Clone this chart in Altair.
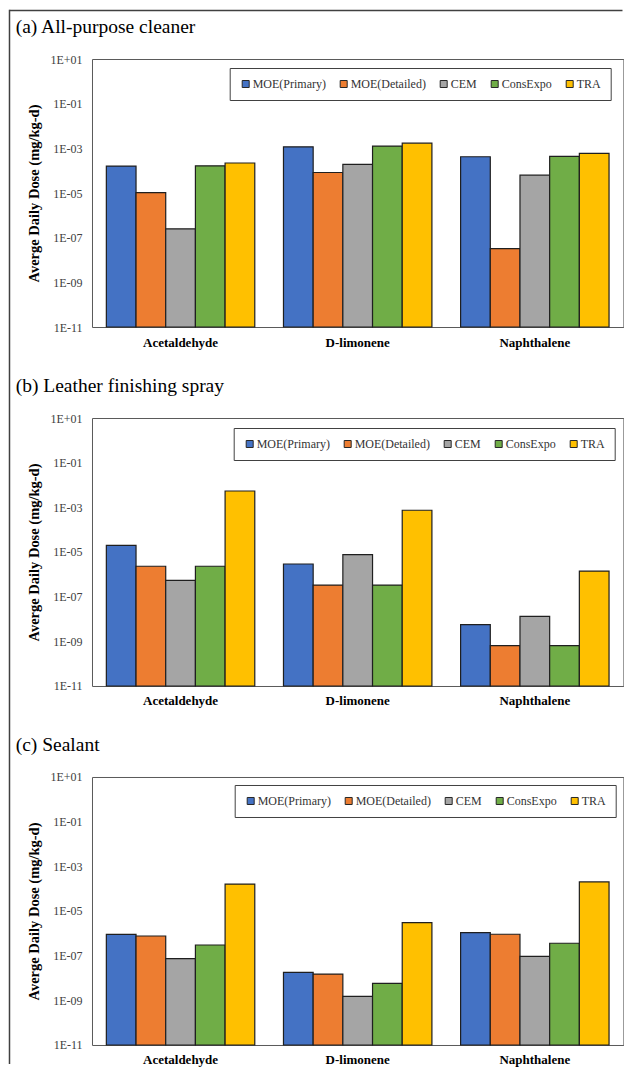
import altair as alt
import pandas as pd

# ---------------- data ----------------
chemicals = ["Acetaldehyde", "D-limonene", "Naphthalene"]
models = ["MOE(Primary)", "MOE(Detailed)", "CEM", "ConsExpo", "TRA"]
colors = ["#4472C4", "#ED7D31", "#A5A5A5", "#70AD47", "#FFC000"]

panel_titles = ["(a) All-purpose cleaner", "(b) Leather finishing spray", "(c) Sealant"]

# values per model, ordered as chemicals
cleaner_moe_primary = [1.6e-4, 1.17e-3, 4.2e-4]
cleaner_moe_detailed = [1.05e-5, 8.3e-5, 3.2e-8]
cleaner_cem = [2.5e-7, 1.9e-4, 6.3e-5]
cleaner_consexpo = [1.65e-4, 1.26e-3, 4.4e-4]
cleaner_tra = [2.2e-4, 1.7e-3, 5.9e-4]

leather_moe_primary = [2.0e-5, 2.9e-6, 5.6e-9]
leather_moe_detailed = [2.3e-6, 3.3e-7, 6.4e-10]
leather_cem = [5.4e-7, 7.6e-6, 1.3e-8]
leather_consexpo = [2.3e-6, 3.3e-7, 6.4e-10]
leather_tra = [5.4e-3, 7.4e-4, 1.4e-6]

sealant_moe_primary = [8.9e-7, 1.8e-8, 1.07e-6]
sealant_moe_detailed = [7.6e-7, 1.5e-8, 9.1e-7]
sealant_cem = [7.4e-8, 1.5e-9, 9.3e-8]
sealant_consexpo = [3.0e-7, 5.8e-9, 3.6e-7]
sealant_tra = [1.6e-4, 3.0e-6, 2.0e-4]

tick_values = [1e1, 1e-1, 1e-3, 1e-5, 1e-7, 1e-9, 1e-11]
tick_labels = ["1E+01", "1E-01", "1E-03", "1E-05", "1E-07", "1E-09", "1E-11"]
y_min, y_max = 1e-11, 1e1

y_title = "Averge Daily Dose (mg/kg-d)"

panels = [
    [cleaner_moe_primary, cleaner_moe_detailed, cleaner_cem, cleaner_consexpo, cleaner_tra],
    [leather_moe_primary, leather_moe_detailed, leather_cem, leather_consexpo, leather_tra],
    [sealant_moe_primary, sealant_moe_detailed, sealant_cem, sealant_consexpo, sealant_tra],
]

legend_pos = [(137.7, 9.0), (141.7, 10.0), (142.7, 8.0)]

W, H = 531.4, 268
GAP = 91
SERIF = "Liberation Serif"

label_expr = "[" + ",".join("'%s'" % t for t in tick_labels) + "][round((1 - log(datum.value)/LN10)/2)]"


def make_panel(i):
    rows = []
    for m, series in zip(models, panels[i]):
        for c, v in zip(chemicals, series):
            rows.append({"chemical": c, "model": m, "value": v})
    df = pd.DataFrame(rows)
    lx, ly = legend_pos[i]
    bars = alt.Chart(df).mark_bar(stroke="#1f1f1f", strokeWidth=1.2).encode(
        x=alt.X("chemical:N", sort=chemicals,
                scale=alt.Scale(paddingInner=0.162, paddingOuter=0.081),
                axis=alt.Axis(title=None, labelAngle=0, labelFontWeight="bold",
                              labelFontSize=13, labelColor="#000000", labelPadding=9,
                              ticks=False, domain=False)),
        xOffset=alt.XOffset("model:N", sort=models,
                            scale=alt.Scale(paddingInner=0, paddingOuter=0)),
        y=alt.Y("value:Q",
                scale=alt.Scale(type="log", domain=[y_min, y_max]),
                axis=alt.Axis(values=tick_values, labelExpr=label_expr,
                              labelFontSize=12, labelColor="#404040", labelPadding=10,
                              ticks=False, domain=False, grid=False,
                              title=y_title, titleFontSize=14.5, titleFontWeight="bold",
                              titleColor="#000000", titleX=-57.7, titleY=H / 2,
                              titleAngle=270, titleAlign="center", titleBaseline="middle")),
        y2=alt.datum(y_min),
        color=alt.Color("model:N", sort=models,
                        scale=alt.Scale(domain=models, range=colors),
                        legend=alt.Legend(title=None, orient="none", direction="horizontal",
                                          legendX=lx, legendY=ly,
                                          symbolType="square", symbolSize=49,
                                          symbolStrokeColor="#262626", symbolStrokeWidth=1,
                                          labelFont=SERIF, labelFontSize=12,
                                          labelColor="#333333", labelOffset=1,
                                          columnPadding=11, padding=10,
                                          strokeColor="#404040", fillColor="white")),
    )
    one = pd.DataFrame({"t": [panel_titles[i]]})
    title = alt.Chart(one).mark_text(font=SERIF, fontSize=19.5, align="left",
                                     baseline="alphabetic", color="#000000").encode(
        text="t:N", x=alt.value(-76.3), y=alt.value(-25.6))
    layers = [bars, title]
    if i == 0:
        border_top = alt.Chart(one).mark_rule(stroke="#404040", strokeWidth=1.5).encode(
            x=alt.value(-82.5), x2=alt.value(530.5), y=alt.value(-48.5))
        border_left = alt.Chart(one).mark_rule(stroke="#404040", strokeWidth=1.5).encode(
            x=alt.value(-82.5), y=alt.value(-49.25), y2=alt.value(1005))
        layers += [border_top, border_left]
    return alt.layer(*layers).properties(width=W, height=H)


chart = alt.vconcat(make_panel(0), make_panel(1), make_panel(2),
                    spacing=GAP, bounds="flush").resolve_scale(color="independent").properties(
    padding=0
).configure_view(stroke="#595959", strokeWidth=1).configure_axis(
    labelFont=SERIF, titleFont=SERIF, grid=False
).configure_legend(labelFont=SERIF)

chart.save("out.html", embed_options={"renderer": "svg", "actions": False})
